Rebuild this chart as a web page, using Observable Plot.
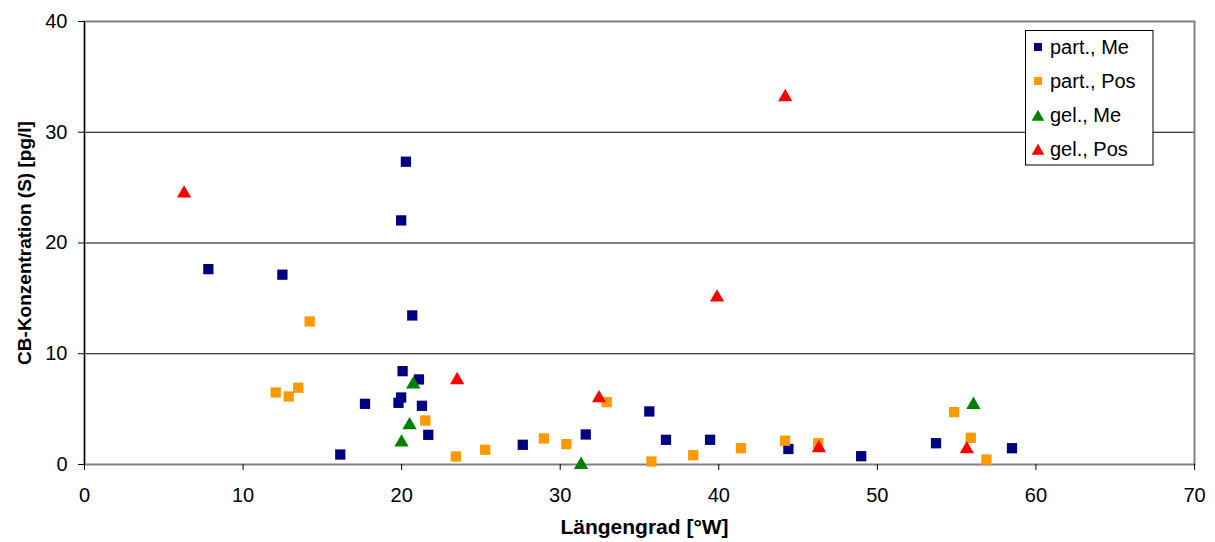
<!DOCTYPE html>
<html><head><meta charset="utf-8">
<script src="https://cdn.jsdelivr.net/npm/d3@7"></script>
<script src="https://cdn.jsdelivr.net/npm/@observablehq/plot@0.6"></script>
<style>body{margin:0;background:#fff} #chart{width:1215px;height:542px}</style>
</head><body><div id="chart"></div><script>
// ---- data ----
const seriesNames = ["part., Me", "part., Pos", "gel., Me", "gel., Pos"];
const seriesColors = ["#000080", "#FF9900", "#008000", "#FF0000"];
const seriesSymbols = ["square", "square", "triangle", "triangle"];

const partMeX = [7.81, 12.48, 19.97, 20.27, 20.67, 20.06, 21.09, 19.97, 19.80, 17.69, 21.28, 21.68, 16.13, 27.64, 31.61, 35.62, 36.67, 39.45, 44.39, 48.98, 53.70, 58.49];
const partMeY = [17.64, 17.14, 22.04, 27.34, 13.46, 8.43, 7.68, 6.05, 5.57, 5.48, 5.30, 2.68, 0.90, 1.78, 2.71, 4.79, 2.23, 2.23, 1.40, 0.75, 1.92, 1.47];

const partPosX = [14.20, 12.06, 12.88, 13.48, 21.49, 23.42, 25.27, 28.97, 30.39, 32.93, 35.75, 38.39, 41.40, 44.18, 46.27, 54.84, 55.89, 56.88];
const partPosY = [12.92, 6.50, 6.14, 6.93, 3.97, 0.72, 1.33, 2.35, 1.84, 5.63, 0.27, 0.84, 1.47, 2.15, 1.92, 4.73, 2.41, 0.45];

const gelMeX = [20.73, 20.50, 19.99, 31.32, 56.06];
const gelMeY = [7.41, 3.73, 2.17, 0.15, 5.57];

const gelPosX = [6.28, 23.50, 32.45, 39.89, 44.19, 46.31, 55.64];
const gelPosY = [24.66, 7.80, 6.17, 15.27, 33.36, 1.65, 1.56];

const xTicks = [0, 10, 20, 30, 40, 50, 60, 70];
const yTicks = [0, 10, 20, 30, 40];
const xTitle = "Längengrad [°W]";
const yTitle = "CB-Konzentration (S) [pg/l]";

// ---- build ----
const seriesX = [partMeX, partPosX, gelMeX, gelPosX];
const seriesY = [partMeY, partPosY, gelMeY, gelPosY];
const rows = seriesX.map((xs, s) => xs.map((x, i) => ({x, y: seriesY[s][i], s})));

const font = "'Liberation Sans', Arial, sans-serif";

const dotMarks = rows.map((data, s) => {
  const isSq = seriesSymbols[s] === "square";
  return Plot.dot(data, {
    x: "x", y: "y",
    symbol: () => seriesSymbols[s],
    fill: seriesColors[s],
    stroke: "none",
    r: isSq ? 5.8 : 5.3,
    dy: isSq ? 0 : 2
  });
});

const chart = Plot.plot({
  width: 1215,
  height: 542,
  marginLeft: 84,
  marginRight: 21,
  marginTop: 21,
  marginBottom: 78,
  style: {fontFamily: font, fontSize: "20px", color: "#000", background: "#fff"},
  x: {domain: [0, 70]},
  y: {domain: [0, 40]},
  symbol: {type: "identity"},
  marks: [
    Plot.ruleY(yTicks.filter(d => d > 0 && d < 40), {stroke: "#000", strokeWidth: 1}),
    Plot.frame({stroke: "#808080", strokeWidth: 2}),
    Plot.ruleX([0], {stroke: "#000", strokeWidth: 1.2}),
    Plot.axisY({ticks: yTicks, tickSize: 6, tickPadding: 11, label: null, fontSize: 20}),
    Plot.axisX({ticks: xTicks, tickSize: 6, tickPadding: 17, label: null, fontSize: 20}),
    Plot.text([yTitle], {frameAnchor: "left", text: d => d, rotate: -90, dx: -60, textAnchor: "middle", fontWeight: "bold", fontSize: 19}),
    Plot.text([xTitle], {frameAnchor: "bottom", text: d => d, dx: 5, dy: 69, textAnchor: "middle", fontWeight: "bold", fontSize: 21}),
    ...dotMarks
  ]
});

document.getElementById("chart").appendChild(chart);

// ---- legend ----
const svg = d3.select(chart);
const lg = svg.append("g").attr("font-family", font).attr("font-size", 20).attr("text-anchor", "start");
lg.append("rect").attr("x", 1025.5).attr("y", 30.5).attr("width", 127.5).attr("height", 134.5)
  .attr("fill", "#fff").attr("stroke", "#000").attr("stroke-width", 1);
const legendY = [47, 81, 115, 149];
seriesNames.forEach((name, i) => {
  const isSq = seriesSymbols[i] === "square";
  const sym = d3.symbol(isSq ? d3.symbolSquare : d3.symbolTriangle, isSq ? 64 : 70)();
  lg.append("path").attr("d", sym)
    .attr("transform", `translate(1038,${legendY[i] + (isSq ? 0 : 2)})`)
    .attr("fill", seriesColors[i]);
  lg.append("text").attr("x", 1050).attr("y", legendY[i]).attr("dy", "0.35em")
    .attr("text-anchor", "start").text(name);
});
</script></body></html>
